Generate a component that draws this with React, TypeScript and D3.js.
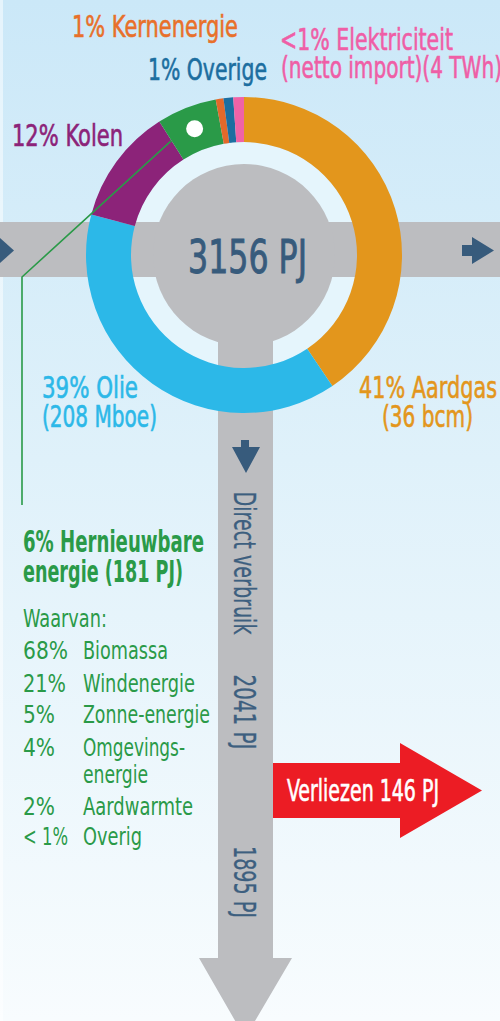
import * as d3 from 'd3'

// Primary energy mix, clockwise from the top of the ring (share as drawn)
const sources = ['Aardgas', 'Olie', 'Kolen', 'Hernieuwbare energie', 'Kernenergie', 'Overige', 'Elektriciteit']
const shares = [41, 39, 12, 6.2, 0.8, 1, 1.1]
const colors = ['#e3961c', '#2cb8e8', '#8c2379', '#2a9a48', '#e3692a', '#1c6ea0', '#f063a6']

const totalPJ = 3156
const directPJ = 2041
const lossPJ = 146
const finalPJ = 1895

// renewable breakdown
const renewPct = ['68%', '21%', '5%', '4%', '2%', '< 1%']
const renewNames = [['Biomassa'], ['Windenergie'], ['Zonne-energie'], ['Omgevings-', 'energie'], ['Aardwarmte'], ['Overig']]

const W = 500
const H = 1021
const cx = 244
const cy = 255
const rOuter = 158
const rInner = 113
const FONT = "'Liberation Sans Narrow', 'DejaVu Sans Condensed', Roboto, sans-serif"
const GREY = '#bcbdc0'
const NAVY = '#375b7c'

const T = ({ x, y, len, fs = 30, fill, weight = 400, sw = 0.6, children, anchor = 'start' }: any) => (
  <text
    x={x}
    y={y}
    fontSize={fs}
    fill={fill}
    stroke={sw ? fill : 'none'}
    strokeWidth={sw}
    fontWeight={weight}
    textAnchor={anchor}
    textLength={len}
    lengthAdjust="spacingAndGlyphs"
    fontFamily={FONT}
  >
    {children}
  </text>
)

const App = () => {
  const pie = d3.pie<number>().sort(null).value((d) => d)
  const arcs = pie(shares)
  const arc = d3.arc<d3.PieArcDatum<number>>().innerRadius(rInner).outerRadius(rOuter)
  const renew = arcs[3]
  const dot = arc.centroid(renew)
  const rMid = (rInner + rOuter) / 2
  const lineStart = [Math.sin(renew.startAngle) * rMid, -Math.cos(renew.startAngle) * rMid]

  const rowY = [659, 692, 723, 756, 815, 845]
  const nameLen: Record<string, number> = {
    Biomassa: 85, Windenergie: 112, 'Zonne-energie': 127, 'Omgevings-': 102, energie: 65, Aardwarmte: 110, Overig: 59,
  }
  const pctLen = [45, 43, 32, 32, 32, 45]

  return (
    <svg width={W} height={H} style={{ position: 'absolute', left: 0, top: 0 }}>
      <defs>
        <linearGradient id="bg" x1="0" y1="0" x2="0" y2="1">
          <stop offset="0" stopColor="#cbe8f8" />
          <stop offset="0.45" stopColor="#dff1fa" />
          <stop offset="1" stopColor="#f8fcfe" />
        </linearGradient>
      </defs>
      <rect width={W} height={H} fill="url(#bg)" />
      <rect width={3} height={H} fill="#fff" opacity={0.5} />

      {/* pale disc inside the ring */}
      <circle cx={cx} cy={cy} r={rInner} fill="#e5f5fc" />

      {/* horizontal flow band */}
      <rect x={0} y={222} width={W} height={55} fill={GREY} />
      <path d="M0,238 L14,250.5 L0,263 Z" fill={NAVY} />
      <path d="M462,245 L472,245 L472,237 L494,250.5 L472,264 L472,256 L462,256 Z" fill={NAVY} />

      {/* grey hub and downward stem */}
      <circle cx={cx} cy={cy} r={91} fill={GREY} />
      <path d="M218,300 L273,300 L273,958 L292,958 L245,1038 L199,958 L218,958 Z" fill={GREY} />
      <path d="M241,440 L249,440 L249,447 L260,447 L246,473 L232,447 L241,447 Z" fill={NAVY} />

      {/* losses */}
      <path d="M273,763 L400,763 L400,743 L482,790.5 L400,838 L400,818 L273,818 Z" fill="#ec1c24" />
      <T x={287} y={801} len={152} fill="#fff">{`Verliezen ${lossPJ} PJ`}</T>

      {/* ring */}
      <g transform={`translate(${cx},${cy})`}>
        {arcs.map((a, i) => (
          <path key={sources[i]} d={arc(a) as string} fill={colors[i]} />
        ))}
        <circle cx={dot[0]} cy={dot[1]} r={8.5} fill="#fff" />
      </g>

      <polyline
        points={`${cx + lineStart[0]},${cy + lineStart[1]} 22,277 22,505`}
        fill="none"
        stroke={colors[3]}
        strokeWidth={1.6}
      />

      <T x={188} y={273} len={119} fs={47} sw={0.9} fill={NAVY}>{`${totalPJ} PJ`}</T>

      {/* ring labels */}
      <T x={72} y={37} len={166} fill="#e8702a">1% Kernenergie</T>
      <T x={280} y={50} len={173} fill="#ef5ea6">{'<1% Elektriciteit'}</T>
      <T x={281} y={78} len={221} fill="#ef5ea6">(netto import)(4 TWh)</T>
      <T x={148} y={80} len={119} fill={colors[5]}>1% Overige</T>
      <T x={12} y={146} len={111} fill={colors[2]}>12% Kolen</T>
      <T x={42} y={398} len={96} fill={colors[1]}>39% Olie</T>
      <T x={42} y={427} len={115} fill={colors[1]}>(208 Mboe)</T>
      <T x={359} y={398} len={138} fill={colors[0]}>41% Aardgas</T>
      <T x={382} y={427} len={91} fill={colors[0]}>(36 bcm)</T>

      {/* renewables */}
      <T x={23} y={552} len={181} fill={colors[3]} weight={700} sw={0}>6% Hernieuwbare</T>
      <T x={23} y={582} len={160} fill={colors[3]} weight={700} sw={0}>energie (181 PJ)</T>
      <T x={23} y={627} len={84} fs={24} sw={0} fill={colors[3]}>Waarvan:</T>
      {renewPct.map((p, i) => (
        <g key={p + i}>
          <T x={23} y={rowY[i]} len={pctLen[i]} fs={24} sw={0} fill={colors[3]}>{p}</T>
          {renewNames[i].map((n, j) => (
            <T key={n} x={83} y={rowY[i] + j * 27} len={nameLen[n]} fs={24} sw={0} fill={colors[3]}>{n}</T>
          ))}
        </g>
      ))}

      {/* vertical stem labels */}
      {[
        ['Direct verbruik', 563, 143],
        [`${directPJ} PJ`, 712, 75],
        [`${finalPJ} PJ`, 882, 72],
      ].map(([s, y, len]) => (
        <g key={s as string} transform={`translate(234,${y}) rotate(90)`}>
          <T x={0} y={0} len={len} fs={31} sw={0.3} fill="#3d5f7f" anchor="middle">{s}</T>
        </g>
      ))}
    </svg>
  )
}

export default App
